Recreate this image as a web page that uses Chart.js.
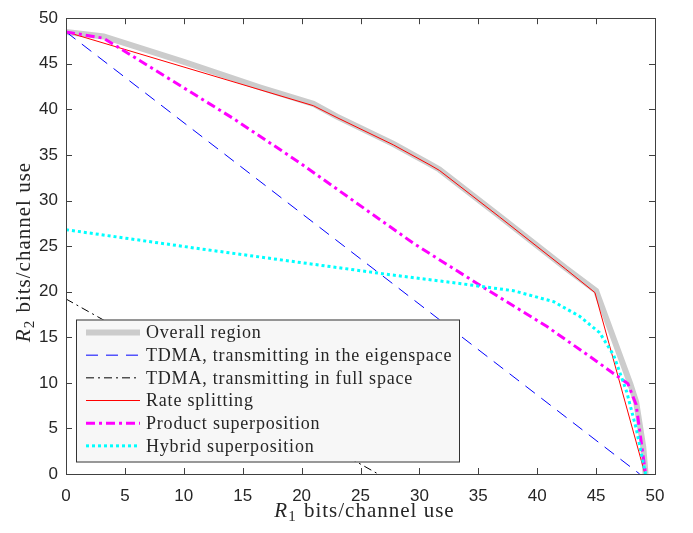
<!DOCTYPE html>
<html>
<head>
<meta charset="utf-8">
<script src="https://cdn.jsdelivr.net/npm/chart.js@4.4.0/dist/chart.umd.min.js"></script>
<style>
  html, body { margin: 0; padding: 0; background: #fff; }
</style>
</head>
<body>
<canvas id="chart" width="693" height="533"></canvas>
<script>
const xTicks = [0, 5, 10, 15, 20, 25, 30, 35, 40, 45, 50];
const yTicks = [0, 5, 10, 15, 20, 25, 30, 35, 40, 45, 50];

const seriesNames = [
  "Overall region",
  "TDMA, transmitting in the eigenspace",
  "TDMA, transmitting in full space",
  "Rate splitting",
  "Product superposition",
  "Hybrid superposition"
];

// values (R1, R2)
const overallR1 = [0, 3.2, 10, 16.5, 21, 23, 27.8, 30.9, 31.7, 36.8, 42.4, 45, 47.9, 48.4, 49.0, 49.2];
const overallR2 = [48.5, 48.0, 45.2, 42.4, 40.6, 39.2, 36.2, 34.0, 33.4, 28.3, 22.6, 20.1, 9.9, 7.9, 3.0, 0];

const tdmaEigR1 = [0, 48.7];
const tdmaEigR2 = [48.5, 0];

const tdmaFullR1 = [0, 26.5];
const tdmaFullR2 = [19.2, 0];

const rateSplitR1 = [0, 21, 23, 27.8, 30.9, 31.7, 36.8, 42.4, 44.9, 49.15];
const rateSplitR2 = [48.5, 40.4, 39.1, 36.1, 33.9, 33.3, 28.2, 22.5, 19.9, 0];

const productR1 = [0, 3.2, 14.2, 20, 29.5, 34.9, 40.8, 45, 47.7, 48.4, 49.2];
const productR2 = [48.5, 47.8, 39.0, 34.0, 25.3, 20.9, 16.2, 12.4, 9.9, 7.6, 0];

const hybridR1 = [0, 11.4, 26.7, 33.4, 35.1, 38, 41.4, 43.6, 45.3, 46.5, 47.6, 48.4, 49.2];
const hybridR2 = [26.8, 24.7, 22.0, 20.9, 20.6, 20.1, 18.9, 17.3, 15.5, 13.0, 9.0, 5.0, 0];

const toPoints = (xs, ys) => xs.map((x, i) => ({ x: x, y: ys[i] }));

const styles = [
  { color: "#cccccc", width: 6, dash: [] },
  { color: "#0000ff", width: 1, dash: [12, 8] },
  { color: "#000000", width: 1, dash: [8, 4, 2, 4] },
  { color: "#ff0000", width: 1, dash: [] },
  { color: "#ff00ff", width: 3, dash: [9, 4, 3, 4] },
  { color: "#00ffff", width: 3, dash: [3, 3] }
];

const series = [
  toPoints(overallR1, overallR2),
  toPoints(tdmaEigR1, tdmaEigR2),
  toPoints(tdmaFullR1, tdmaFullR2),
  toPoints(rateSplitR1, rateSplitR2),
  toPoints(productR1, productR2),
  toPoints(hybridR1, hybridR2)
];

const datasets = series.map((pts, i) => ({
  label: seriesNames[i],
  data: pts,
  showLine: true,
  borderColor: styles[i].color,
  backgroundColor: styles[i].color,
  borderWidth: styles[i].width,
  borderDash: styles[i].dash,
  pointRadius: 0,
  tension: 0,
  order: series.length - i
}));

const axisColor = "#404040";
const textColor = "#262626";

// MATLAB-like box with inward ticks on all four sides
const boxPlugin = {
  id: "box",
  afterDraw(chart) {
    const { ctx, chartArea: a, scales } = chart;
    ctx.save();
    ctx.strokeStyle = axisColor;
    ctx.lineWidth = 1;
    ctx.setLineDash([]);
    ctx.beginPath();
    scales.x.ticks.forEach(t => {
      const px = Math.round(scales.x.getPixelForValue(t.value)) + 0.5;
      ctx.moveTo(px, a.bottom); ctx.lineTo(px, a.bottom - 6);
      ctx.moveTo(px, a.top); ctx.lineTo(px, a.top + 6);
    });
    scales.y.ticks.forEach(t => {
      const py = Math.round(scales.y.getPixelForValue(t.value)) + 0.5;
      ctx.moveTo(a.left, py); ctx.lineTo(a.left + 6, py);
      ctx.moveTo(a.right, py); ctx.lineTo(a.right - 6, py);
    });
    ctx.stroke();
    ctx.strokeRect(Math.round(a.left) + 0.5, Math.round(a.top) + 0.5,
      Math.round(a.right - a.left), Math.round(a.bottom - a.top));
    ctx.restore();
  }
};

// legend box drawn over the lines
const legendPlugin = {
  id: "matlabLegend",
  afterDatasetsDraw(chart) {
    const ctx = chart.ctx;
    const bx = 76, by = 319.5, bw = 383, bh = 142;
    ctx.save();
    ctx.fillStyle = "#f7f7f7";
    ctx.fillRect(bx, by, bw, bh);
    ctx.strokeStyle = "#333333";
    ctx.lineWidth = 1;
    ctx.setLineDash([]);
    ctx.strokeRect(bx + 0.5, by + 0.5, bw, bh);
    ctx.font = '18px "Liberation Serif", serif';
    if ("letterSpacing" in ctx) ctx.letterSpacing = "0.8px";
    ctx.textBaseline = "middle";
    seriesNames.forEach((name, i) => {
      const y = 332.5 + i * 22.67;
      const s = styles[i];
      ctx.strokeStyle = s.color;
      ctx.lineWidth = s.width;
      ctx.setLineDash(s.dash);
      ctx.beginPath();
      ctx.moveTo(86, y);
      ctx.lineTo(140, y);
      ctx.stroke();
      ctx.fillStyle = textColor;
      ctx.fillText(name, 146, y + 1);
    });
    ctx.restore();
  }
};

// axis titles with italic R and subscript index
function drawTitle(ctx, idx) {
  const big = '21px "Liberation Serif", serif';
  const bigIt = 'italic 21px "Liberation Serif", serif';
  const small = '15px "Liberation Serif", serif';
  const rest = " bits/channel use";
  ctx.font = bigIt; const wR = ctx.measureText("R").width;
  ctx.font = small; const wS = ctx.measureText(idx).width;
  ctx.font = big; const wT = ctx.measureText(rest).width;
  const total = wR + wS + 1 + wT;
  let x = -total / 2;
  ctx.fillStyle = textColor;
  ctx.textBaseline = "alphabetic";
  ctx.font = bigIt; ctx.fillText("R", x, 0); x += wR;
  ctx.font = small; ctx.fillText(idx, x, 4); x += wS + 1;
  ctx.font = big; ctx.fillText(rest, x, 0);
}

const titlePlugin = {
  id: "axisTitles",
  afterDraw(chart) {
    const ctx = chart.ctx;
    const a = chart.chartArea;
    ctx.save();
    if ("letterSpacing" in ctx) ctx.letterSpacing = "1px";
    ctx.translate((a.left + a.right) / 2 + 4, 517);
    drawTitle(ctx, "1");
    ctx.restore();
    ctx.save();
    if ("letterSpacing" in ctx) ctx.letterSpacing = "1px";
    ctx.translate(30, 252);
    ctx.rotate(-Math.PI / 2);
    drawTitle(ctx, "2");
    ctx.restore();
  }
};

new Chart(document.getElementById("chart"), {
  type: "scatter",
  data: { datasets: datasets },
  options: {
    responsive: false,
    animation: false,
    devicePixelRatio: 1,
    layout: { padding: { left: 0, top: 11, right: 38, bottom: 0 } },
    plugins: {
      legend: { display: false },
      tooltip: { enabled: false }
    },
    scales: {
      x: {
        type: "linear",
        min: 0,
        max: 50,
        afterBuildTicks: s => { s.ticks = xTicks.map(v => ({ value: v })); },
        afterFit: s => { s.height = 59; },
        grid: { display: false, drawTicks: false },
        border: { display: false },
        ticks: {
          padding: 12,
          color: textColor,
          font: { family: '"Liberation Sans", Arial, sans-serif', size: 17 }
        }
      },
      y: {
        type: "linear",
        min: 0,
        max: 50,
        afterBuildTicks: s => { s.ticks = yTicks.map(v => ({ value: v })); },
        afterFit: s => { s.width = 66; },
        grid: { display: false, drawTicks: false },
        border: { display: false },
        ticks: {
          padding: 8,
          color: textColor,
          font: { family: '"Liberation Sans", Arial, sans-serif', size: 17 }
        }
      }
    }
  },
  plugins: [boxPlugin, legendPlugin, titlePlugin]
});
</script>
</body>
</html>
